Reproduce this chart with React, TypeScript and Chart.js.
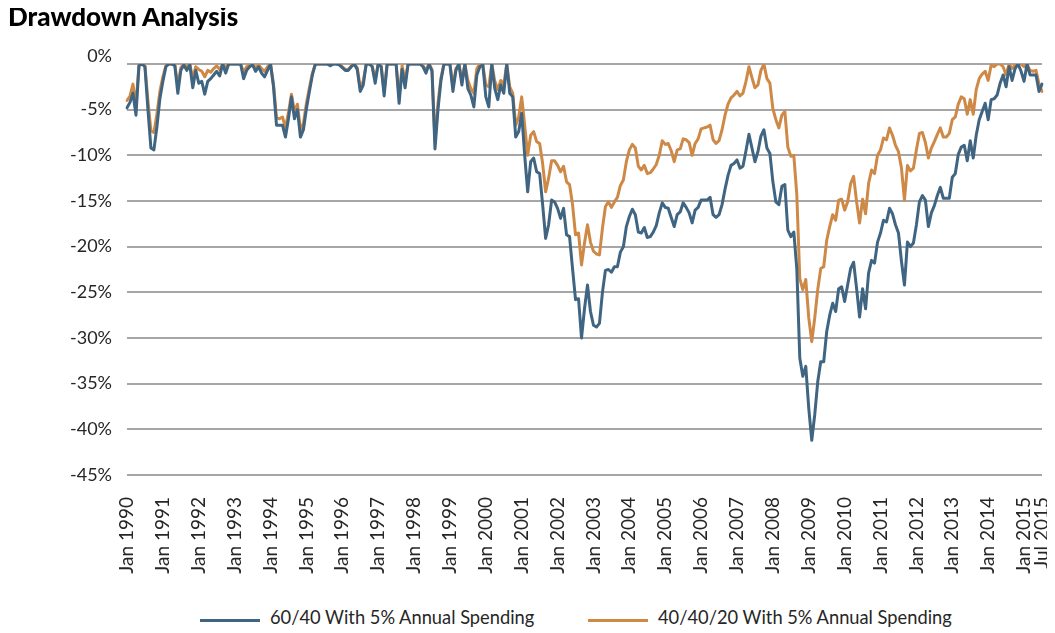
import React, { useEffect, useRef } from 'react';
import { Chart, registerables } from 'chart.js';

Chart.register(...registerables);

const MONTH_NAMES = ['Jan', 'Feb', 'Mar', 'Apr', 'May', 'Jun', 'Jul', 'Aug', 'Sep', 'Oct', 'Nov', 'Dec'];
const FIRST_YEAR = 1990;
const MONTH_COUNT = 307; // Jan 1990 .. Jul 2015

const categories: string[] = Array.from(
  { length: MONTH_COUNT },
  (_, i) => `${MONTH_NAMES[i % 12]} ${FIRST_YEAR + Math.floor(i / 12)}`
);

const xTickLabels = [
  'Jan 1990', 'Jan 1991', 'Jan 1992', 'Jan 1993', 'Jan 1994', 'Jan 1995', 'Jan 1996',
  'Jan 1997', 'Jan 1998', 'Jan 1999', 'Jan 2000', 'Jan 2001', 'Jan 2002', 'Jan 2003',
  'Jan 2004', 'Jan 2005', 'Jan 2006', 'Jan 2007', 'Jan 2008', 'Jan 2009', 'Jan 2010',
  'Jan 2011', 'Jan 2012', 'Jan 2013', 'Jan 2014', 'Jan 2015', 'Jul 2015',
];

const yTickValues = [0, -5, -10, -15, -20, -25, -30, -35, -40, -45];

const seriesNames = ['60/40 With 5% Annual Spending', '40/40/20 With 5% Annual Spending'];

// 60/40 With 5% Annual Spending — drawdown in %, one value per month
const drawdown6040 = [
  -4.8, -4.2, -3.2, -5.6, -0.2, 0, -0.3, -5.0, -9.2, -9.4, -6.9, -3.8, // 1990
  -1.9, -0.3, 0, 0, -0.2, -3.2, -0.7, -0.1, -0.7, -0.1, -2.6, -0.7, // 1991
  -2.1, -1.9, -3.3, -1.9, -1.6, -1.2, -0.8, -1.3, 0, -1.0, 0, 0, // 1992
  0, 0, 0, -1.6, -0.7, -0.3, -0.1, -0.8, -0.3, -1.0, -1.4, -0.7, // 1993
  0, -2.5, -6.7, -6.7, -6.7, -8.0, -6.0, -3.6, -6.0, -5.0, -8.0, -7.2, // 1994
  -4.9, -3.0, -1.2, 0, 0, 0, 0, 0, -0.2, 0, 0, -0.1, // 1995
  -0.4, -0.7, -0.7, -0.3, 0, -0.6, -3.0, -2.3, 0, 0, -0.3, -2.1, // 1996
  0, -0.3, -3.5, 0, 0, 0, 0, -4.3, -0.6, -2.6, 0, 0, // 1997
  0, 0, 0, -0.3, -1.0, 0, -0.8, -9.3, -5.0, -1.8, 0, 0, // 1998
  0, -3.0, -0.7, 0, -2.3, 0, -2.7, -3.4, -4.7, -1.2, -0.3, -0.1, // 1999
  -3.6, -4.7, 0, -2.7, -3.9, -2.3, -3.2, 0, -3.2, -3.6, -8.0, -7.4, // 2000
  -5.4, -10.0, -14.0, -10.7, -10.3, -11.8, -12.0, -15.4, -19.1, -17.6, -14.9, -15.1, // 2001
  -15.8, -16.9, -15.8, -18.7, -18.9, -22.4, -25.8, -25.7, -30.0, -26.8, -24.2, -27.1, // 2002
  -28.6, -28.8, -28.4, -25.0, -22.6, -22.5, -22.8, -22.2, -22.2, -20.6, -20.0, -17.8, // 2003
  -16.7, -15.9, -16.5, -18.4, -18.5, -17.9, -19.0, -18.9, -18.4, -17.7, -16.3, -15.2, // 2004
  -15.7, -15.8, -16.8, -17.8, -16.5, -16.2, -15.2, -15.7, -16.3, -17.4, -16.0, -15.7, // 2005
  -14.9, -14.9, -14.9, -14.6, -16.5, -16.8, -16.5, -15.4, -13.7, -12.2, -11.1, -10.9, // 2006
  -10.5, -11.4, -11.2, -9.5, -7.7, -9.2, -10.7, -9.6, -7.9, -7.2, -9.2, -9.8, // 2007
  -12.9, -15.1, -15.4, -13.4, -13.2, -18.2, -18.9, -18.4, -22.4, -32.2, -34.2, -33.1, // 2008
  -37.7, -41.2, -38.4, -34.8, -32.6, -32.6, -29.3, -27.5, -26.2, -27.1, -24.6, -24.4, // 2009
  -26.0, -24.2, -22.4, -21.7, -24.6, -27.7, -24.6, -26.8, -22.9, -21.5, -21.8, -19.5, // 2010
  -18.5, -17.1, -17.3, -15.8, -16.4, -17.6, -18.5, -21.6, -24.2, -19.5, -20.0, -19.6, // 2011
  -17.6, -15.1, -14.4, -14.9, -17.8, -16.3, -15.5, -14.4, -13.5, -14.7, -14.7, -14.7, // 2012
  -12.4, -12.0, -9.9, -9.1, -8.9, -10.6, -8.4, -10.3, -7.8, -6.1, -5.2, -4.3, // 2013
  -6.1, -3.9, -3.8, -3.4, -2.1, -1.2, -2.5, -0.3, -1.8, -0.5, 0, -0.8, // 2014
  -1.9, 0, -1.2, -1.2, -1.2, -3.0, -2.2, // 2015
];

// 40/40/20 With 5% Annual Spending — drawdown in %, one value per month
const drawdown404020 = [
  -4.0, -3.5, -2.2, -4.5, -0.1, 0, -0.2, -4.0, -7.3, -7.5, -5.5, -3.0, // 1990
  -1.4, -0.2, 0, 0, -0.1, -2.4, -0.4, 0, -0.3, 0, -1.6, -0.3, // 1991
  -0.6, -0.8, -1.4, -0.7, -0.9, -0.5, -0.2, -0.6, 0, -0.4, 0, 0, // 1992
  0, 0, 0, -0.9, -0.3, -0.1, 0, -0.4, -0.1, -0.5, -0.8, -0.3, // 1993
  0, -2.2, -5.9, -6.0, -5.8, -7.0, -5.3, -3.3, -5.2, -4.4, -7.2, -6.5, // 1994
  -4.3, -2.6, -1.0, 0, 0, 0, 0, 0, -0.1, 0, 0, 0, // 1995
  -0.3, -0.6, -0.6, -0.2, 0, -0.4, -2.6, -1.9, 0, 0, -0.2, -1.7, // 1996
  0, -0.2, -3.0, 0, 0, 0, 0, -3.6, -0.2, -1.8, 0, 0, // 1997
  0, 0, 0, -0.2, -0.7, 0, -0.6, -8.5, -4.3, -1.5, 0, 0, // 1998
  0, -2.5, -0.5, 0, -1.8, 0, -1.8, -2.7, -3.2, -0.5, 0, -0.1, // 1999
  -2.3, -2.5, 0, -1.9, -2.8, -1.8, -2.3, 0, -2.5, -3.2, -6.7, -5.8, // 2000
  -3.6, -6.7, -10.0, -7.8, -7.4, -8.5, -8.7, -10.9, -14.0, -12.5, -10.6, -10.6, // 2001
  -11.1, -11.8, -11.2, -12.9, -13.2, -15.4, -18.7, -18.5, -22.0, -19.6, -17.6, -19.5, // 2002
  -20.5, -20.8, -20.9, -18.0, -15.6, -15.1, -15.7, -15.1, -14.6, -13.3, -12.7, -10.7, // 2003
  -9.4, -8.8, -9.2, -11.2, -11.6, -11.1, -12.0, -11.9, -11.5, -11.0, -10.0, -8.4, // 2004
  -8.8, -8.7, -9.5, -10.7, -9.4, -9.3, -8.2, -8.3, -8.6, -10.0, -8.7, -8.2, // 2005
  -7.1, -7.0, -6.9, -6.7, -8.3, -8.7, -8.4, -7.2, -5.6, -4.4, -3.7, -3.4, // 2006
  -3.0, -3.5, -3.2, -1.9, -0.3, -1.5, -2.6, -2.3, -0.7, 0, -1.6, -2.1, // 2007
  -4.9, -6.1, -7.0, -5.6, -5.2, -9.1, -10.1, -10.0, -14.3, -23.5, -24.7, -23.6, // 2008
  -27.8, -30.4, -27.8, -24.7, -22.4, -22.2, -19.3, -17.8, -16.5, -17.1, -14.9, -14.8, // 2009
  -16.0, -15.1, -13.1, -12.3, -15.1, -17.4, -14.8, -16.4, -13.1, -11.6, -12.0, -10.0, // 2010
  -9.4, -8.1, -8.3, -7.0, -7.8, -8.9, -9.6, -11.4, -14.9, -11.1, -11.7, -11.4, // 2011
  -9.4, -7.6, -7.5, -8.6, -10.3, -9.2, -8.5, -7.7, -7.0, -8.0, -8.0, -7.6, // 2012
  -6.1, -5.8, -4.4, -3.6, -3.8, -5.5, -3.9, -5.5, -2.8, -1.6, -1.1, -0.8, // 2013
  -1.8, -0.1, -0.3, 0, 0, -0.3, -1.2, 0, -0.5, -0.1, 0, 0, // 2014
  -0.3, -0.1, -0.7, -0.8, -0.7, -2.2, -3.0, // 2015
];

const BLUE = '#3f6582';
const ORANGE = '#cf8946';
const GRID = '#a6a6a6';
const TEXT = '#262626';
const FONT = 'Lato, "Open Sans", sans-serif';

const CANVAS_W = 1047;
const CANVAS_H = 598;
const AREA_LEFT = 119;
const AREA_RIGHT = 1034;
const AREA_TOP = 56;
const AREA_BOTTOM = 467;

export default function App() {
  const canvasRef = useRef<HTMLCanvasElement | null>(null);

  useEffect(() => {
    document.documentElement.style.overflow = 'hidden';
    document.body.style.overflow = 'hidden';
    if (!canvasRef.current) return;
    const chart = new Chart(canvasRef.current, {
      type: 'line',
      data: {
        labels: categories,
        datasets: [
          {
            label: seriesNames[0],
            data: drawdown6040,
            borderColor: BLUE,
            backgroundColor: BLUE,
            borderWidth: 3,
            pointRadius: 0,
            tension: 0,
            fill: false,
            borderJoinStyle: 'round',
            borderCapStyle: 'round',
          },
          {
            label: seriesNames[1],
            data: drawdown404020,
            borderColor: ORANGE,
            backgroundColor: ORANGE,
            borderWidth: 3,
            pointRadius: 0,
            tension: 0,
            fill: false,
            borderJoinStyle: 'round',
            borderCapStyle: 'round',
          },
        ],
      },
      options: {
        animation: false,
        responsive: true,
        maintainAspectRatio: false,
        layout: { padding: { left: 0, right: CANVAS_W - AREA_RIGHT, top: AREA_TOP, bottom: 0 } },
        plugins: {
          legend: { display: false },
          title: { display: false },
          tooltip: { enabled: false },
        },
        scales: {
          x: {
            type: 'category',
            grid: { display: false, drawTicks: false },
            border: { display: false },
            ticks: {
              autoSkip: false,
              minRotation: 90,
              maxRotation: 90,
              padding: 22,
              color: TEXT,
              font: { family: FONT, size: 19 },
              callback: (_v: any, index: number) => {
                const l = categories[index];
                return xTickLabels.includes(l) ? l : '';
              },
            },
            afterFit: (s: any) => {
              s.height = CANVAS_H - AREA_BOTTOM;
              s.paddingLeft = 0;
              s.paddingRight = 0;
            },
          },
          y: {
            min: yTickValues[yTickValues.length - 1],
            max: yTickValues[0],
            afterBuildTicks: (s: any) => {
              s.ticks = yTickValues.map((v) => ({ value: v }));
            },
            ticks: {
              padding: 15,
              color: TEXT,
              font: { family: FONT, size: 18, lineHeight: 0.92 },
              // the top label sits slightly above its gridline in the original
              callback: (v: any) => (v === 0 ? [`${v}%`, ''] : `${v}%`),
            },
            grid: { color: GRID, lineWidth: 2, drawTicks: false },
            border: { display: false },
            afterFit: (s: any) => {
              s.width = AREA_LEFT;
              s.paddingTop = 0;
              s.paddingBottom = 0;
            },
          },
        },
      },
    });
    return () => chart.destroy();
  }, []);

  const legendText: React.CSSProperties = {
    position: 'absolute',
    top: 600,
    fontFamily: FONT,
    fontSize: 18.3,
    lineHeight: '19px',
    color: TEXT,
    whiteSpace: 'nowrap',
  };
  const legendLine: React.CSSProperties = {
    position: 'absolute',
    top: 611,
    width: 60,
    height: 3,
  };

  return (
    <div style={{ position: 'relative', width: CANVAS_W, height: 625, fontFamily: FONT }}>
      <div style={{ position: 'absolute', left: 0, top: 0, width: CANVAS_W, height: CANVAS_H }}>
        <canvas ref={canvasRef} />
      </div>
      <div
        style={{
          position: 'absolute',
          left: 0,
          top: -5,
          fontFamily: FONT,
          fontWeight: 900,
          fontSize: 26,
          lineHeight: '26px',
          color: '#000',
          whiteSpace: 'nowrap',
        }}
      >
        Drawdown Analysis
      </div>
      <div style={{ ...legendLine, left: 192, background: BLUE }} />
      <div style={{ ...legendText, left: 262 }}>{seriesNames[0]}</div>
      <div style={{ ...legendLine, left: 580, background: ORANGE }} />
      <div style={{ ...legendText, left: 650 }}>{seriesNames[1]}</div>
    </div>
  );
}
